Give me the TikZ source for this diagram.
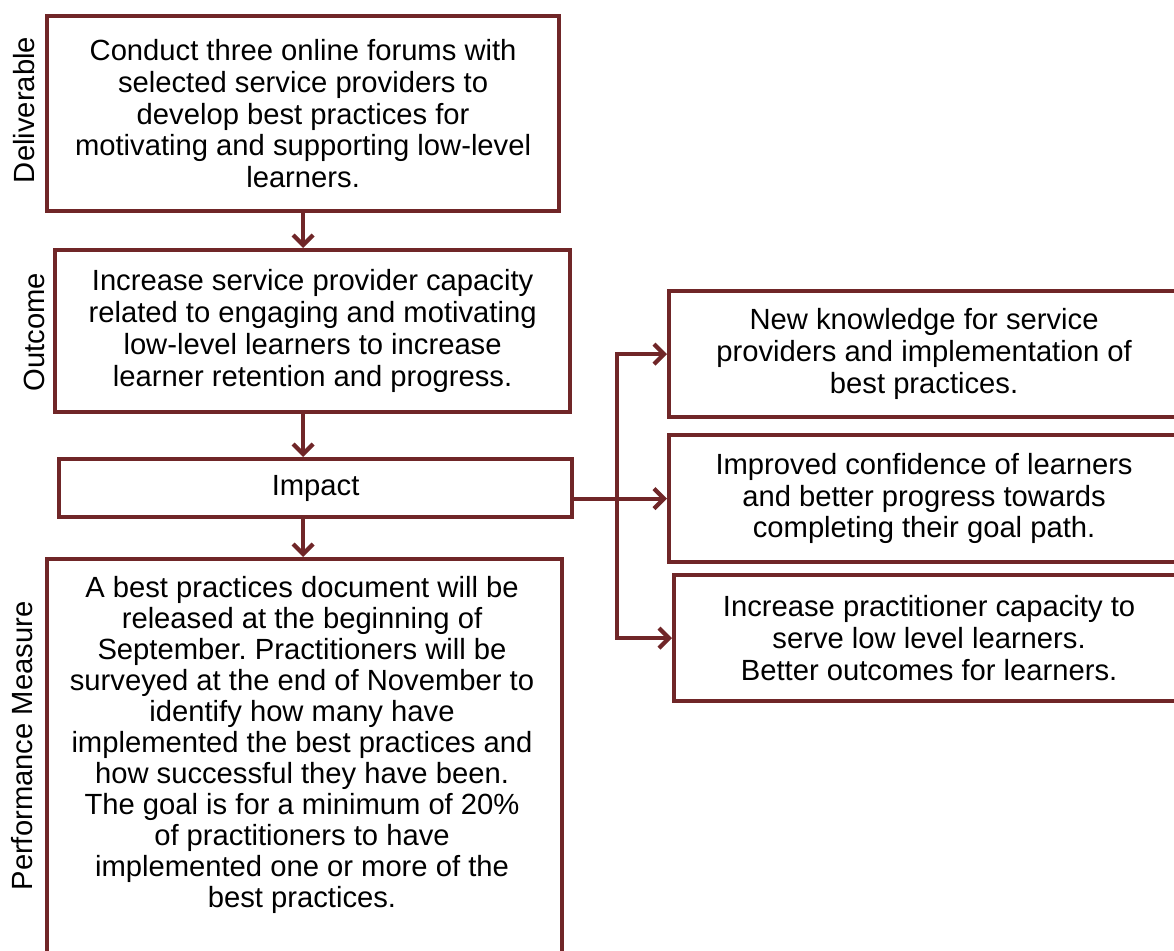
\documentclass[tikz,border=0pt]{standalone}
\usepackage{fontspec}
\setmainfont{Liberation Sans}
\usetikzlibrary{arrows.meta}
\definecolor{maroon}{RGB}{112,38,40}
\begin{document}
\frenchspacing
\begin{tikzpicture}[x=0.5pt,y=-0.5pt,line join=miter,>={Straight Barb[length=5pt,width=10pt]},
		font=\fontsize{14.6}{15.9}\selectfont]
	\tikzset{box/.style={draw=maroon,line width=2.1pt,fill=white,anchor=north west,inner sep=0pt},
		txt/.style={align=center,inner sep=0pt},
		link/.style={draw=maroon,line width=2.1pt,->}}
	\useasboundingbox (0,0) rectangle (1174,950);
	\clip (0,0) rectangle (1174,950);
	% left column
	\node[box,minimum width=256pt,minimum height=97.5pt] (del) at (45,14) {};
	\node[txt] (deltext) at (del.center) {Conduct three online forums with\\selected service providers to\\develop best practices for\\motivating and supporting low-level\\learners.};
	\node[box,minimum width=257.5pt,minimum height=81pt] (out) at (53,248) {};
	\node[txt] (outtext) at (out.center) {Increase service provider capacity\\related to engaging and motivating\\low-level learners to increase\\learner retention and progress.};
	\node[box,minimum width=256.5pt,minimum height=29pt] (imp) at (57,457) {};
	\node[txt] (imptext) at (imp.center) {Impact};
	\node[box,minimum width=257.5pt,minimum height=215pt] (pm) at (45,557) {};
	\node[txt,font=\fontsize{14.6}{15.5}\selectfont] (pmtext) at (302,745) {A best practices document will be\\released at the beginning of\\September. Practitioners will be\\surveyed at the end of November to\\identify how many have\\implemented the best practices and\\how successful they have been.\\The goal is for a minimum of 20\%\\of practitioners to have\\implemented one or more of the\\best practices.};
	% side labels
	\node[rotate=90] (lbldel) at (24,110) {Deliverable};
	\node[rotate=90] (lblout) at (34,332) {Outcome};
	\node[rotate=90] (lblpm) at (22,746) {Performance Measure};
	% right column
	\node[box,minimum width=255pt,minimum height=63pt] (kn) at (667,289) {};
	\node[txt] (kntext) at (kn.center) {New knowledge for service\\providers and implementation of\\best practices.};
	\node[box,minimum width=255pt,minimum height=63.5pt] (conf) at (667,433) {};
	\node[txt] (conftext) at (conf.center) {Improved confidence of learners\\and better progress towards\\completing their goal path.};
	\node[box,minimum width=255pt,minimum height=63pt] (cap) at (672,573) {};
	\node[txt] (captext) at (cap.center) {Increase practitioner capacity to\\serve low level learners.\\Better outcomes for learners.};
	% connectors
	\draw[link] (del.south) -- (del.south |- out.north);
	\draw[link] (out.south -| del.south) -- (imp.north -| del.south);
	\draw[link] (imp.south -| del.south) -- (pm.north -| del.south);
	\coordinate (fork) at (617,496);
	\draw[link] (imp.east |- conf.west) -- (conf.west);
	\draw[link] (fork) |- (kn.west);
	\draw[link] (fork) |- (cap.west);
\end{tikzpicture}
\end{document}
